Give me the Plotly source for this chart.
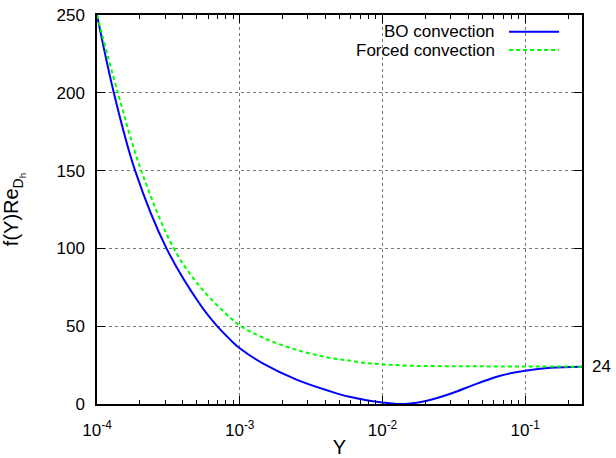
import numpy as np
import plotly.graph_objects as go

# Data (log10(Y), f(Y)Re_Dh)
bo_logy = [-4.0, -3.882, -3.733, -3.513, -3.275, -3.158, -3.065, -3.0, -2.832,
           -2.598, -2.365, -2.232, -2.132, -2.0, -1.898, -1.805, -1.688, -1.524,
           -1.337, -1.175, -1.0, -0.824, -0.602]
bo_val = [250, 200, 150, 100, 63.6, 50, 41.2, 35.8, 25.8,
          15.5, 8.1, 4.6, 2.8, 1.0, 0.0, 0.3, 2.1, 6.6,
          13.1, 18.2, 21.4, 23.3, 24.0]

fc_logy = [-4.0, -3.854, -3.69, -3.462, -3.275, -3.065, -3.0, -2.832, -2.598,
           -2.365, -2.232, -2.132, -2.0, -1.805, -1.524, -1.0, -0.602]
fc_val = [250, 200, 150, 100, 75, 55.3, 50.5, 42.4, 34.7,
          29.6, 27.9, 26.5, 25.5, 24.6, 24.3, 24.1, 24.0]

bo_y = [10 ** v for v in bo_logy]
fc_y = [10 ** v for v in fc_logy]

xtick_vals = [1e-4, 1e-3, 1e-2, 1e-1]
xtick_text = ["10<sup>-4</sup>", "10<sup>-3</sup>", "10<sup>-2</sup>", "10<sup>-1</sup>"]
minor_vals = [m * 10 ** e for e in range(-4, 0) for m in range(2, 10) if m * 10 ** e <= 0.25]

FONT = "Liberation Sans, Arial, sans-serif"
FS = 17

fig = go.Figure()
fig.add_trace(go.Scatter(x=bo_y, y=bo_val, mode="lines", name="BO convection",
                         line=dict(color="#0000ff", width=2, shape="spline", smoothing=1.0)))
fig.add_trace(go.Scatter(x=fc_y, y=fc_val, mode="lines", name="Forced convection",
                         line=dict(color="#00ff00", width=2, dash="4px,3px", shape="spline", smoothing=1.0)))

fig.update_layout(
    width=616, height=458,
    margin=dict(l=96.5, r=34, t=15, b=54),
    paper_bgcolor="white", plot_bgcolor="white",
    font=dict(family=FONT, size=FS, color="black"),
    showlegend=False,
)

fig.update_xaxes(
    type="log", range=[-4, np.log10(0.25)], automargin=False,
    tickmode="array", tickvals=xtick_vals, ticktext=xtick_text,
    ticks="inside", ticklen=8, tickcolor="black", tickwidth=1,
    ticklabelstandoff=10,
    minor=dict(tickmode="array", tickvals=minor_vals, ticks="inside", ticklen=4,
               tickcolor="black", showgrid=False),
    showline=True, linecolor="black", linewidth=1.5, mirror="ticks",
    showgrid=True, gridcolor="#777777", griddash="dot", gridwidth=1,
    zeroline=False,
    title=dict(text="Y", standoff=8),
)
fig.update_yaxes(
    range=[0, 250], tickmode="linear", tick0=0, dtick=50, automargin=False,
    ticks="inside", ticklen=8, tickcolor="black", tickwidth=1,
    ticklabelstandoff=7,
    showline=True, linecolor="black", linewidth=1.5, mirror="ticks",
    showgrid=True, gridcolor="#777777", griddash="dot", gridwidth=1,
    zeroline=False,
    title=dict(text="f(Y)Re<sub>D<sub>h</sub></sub>", standoff=32),
)

# right-side "24" label
fig.add_annotation(x=1, xref="paper", y=24, yref="y", text="24", showarrow=False,
                   xanchor="left", xshift=8, font=dict(size=FS))

# gnuplot-style legend (text, then sample line to its right)
leg = [("BO convection", dict(color="#0000ff", width=2), 0.957),
       ("Forced convection", dict(color="#00ff00", width=2, dash="4px,3px"), 0.910)]
for txt, ln, yp in leg:
    fig.add_annotation(x=0.824, xref="paper", y=yp, yref="paper", text=txt,
                       showarrow=False, xanchor="right", yanchor="middle",
                       font=dict(size=FS))
    fig.add_shape(type="line", xref="paper", yref="paper", x0=0.8496, x1=0.9526,
                  y0=yp, y1=yp, line=ln)

fig.write_html("out.html")
